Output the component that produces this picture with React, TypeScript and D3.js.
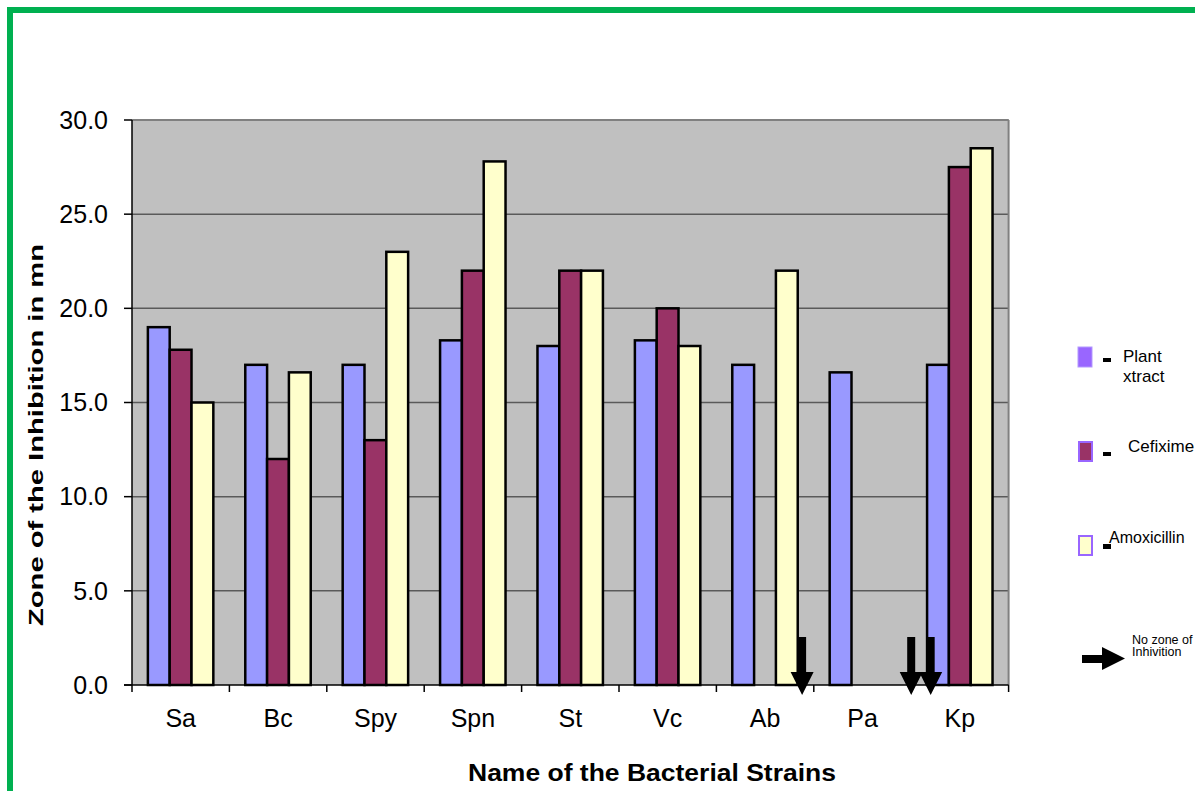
import React from "react";
import * as d3 from "d3";

const categories = ["Sa", "Bc", "Spy", "Spn", "St", "Vc", "Ab", "Pa", "Kp"];
const plantExtract = [19.0, 17.0, 17.0, 18.3, 18.0, 18.3, 17.0, 16.6, 17.0];
const cefixime = [17.8, 12.0, 13.0, 22.0, 22.0, 20.0, 0, 0, 27.5];
const amoxicillin = [15.0, 16.6, 23.0, 27.8, 22.0, 18.0, 22.0, 0, 28.5];
const yTicks = [0, 5, 10, 15, 20, 25, 30];
const seriesNames = ["Plant extract", "Cefixime", "Amoxicillin"];
// "No zone of inhibition" arrows: category and position within band (fraction)
const arrowCats = ["Ab", "Pa", "Pa"];
const arrowFrac = [0.88, 1.0, 1.2];

const W = 1195;
const H = 791;
const left = 132;
const right = 1008.6;
const top = 120;
const bottom = 685;

const colors = ["#9999FF", "#993366", "#FFFFCC"];

export default function App() {
  const x = d3.scaleBand<string>().domain(categories).range([left, right]).padding(0);
  const y = d3.scaleLinear().domain([0, 30]).range([bottom, top]);
  const bw = x.bandwidth();
  const groupOff = bw * 0.163;
  const barW = bw * 0.224;
  const series = [plantExtract, cefixime, amoxicillin];
  const y0 = y(0);

  const arrow = (cx: number, key: string) => {
    const tipY = y0 + 10;
    const p = [
      [cx - 4, y0 - 48],
      [cx + 4, y0 - 48],
      [cx + 4, y0 - 13],
      [cx + 11.5, y0 - 13],
      [cx, tipY],
      [cx - 11.5, y0 - 13],
      [cx - 4, y0 - 13],
    ];
    return <polygon key={key} points={p.map((d) => d.join(",")).join(" ")} fill="#000" />;
  };

  const boundaries = d3.range(categories.length + 1).map((i) => left + i * bw);

  return (
    <div style={{ position: "absolute", left: 0, top: 0 }}>
      <svg width={W} height={H} style={{ display: "block", fontFamily: "Liberation Sans, Arial, sans-serif" }}>
        <rect x={0} y={0} width={W} height={H} fill="#fff" />
        <rect x={10} y={10} width={1210} height={820} fill="none" stroke="#00B050" strokeWidth={6} />

        {/* plot area */}
        <rect x={left} y={top} width={right - left} height={bottom - top} fill="#C0C0C0" />
        {yTicks.filter((t) => t > 0).map((t) => (
          <line key={"g" + t} x1={left} x2={right} y1={y(t)} y2={y(t)} stroke="#5a5a5a" strokeWidth={1.5} />
        ))}
        <line x1={left} x2={right} y1={top} y2={top} stroke="#808080" strokeWidth={2} />
        <line x1={right} x2={right} y1={top} y2={bottom} stroke="#808080" strokeWidth={2} />

        {/* bars */}
        {categories.map((c, i) => (
          <g key={c}>
            {series.map((s, k) =>
              s[i] > 0 ? (
                <rect
                  key={k}
                  x={(x(c) as number) + groupOff + k * barW}
                  y={y(s[i])}
                  width={barW}
                  height={y0 - y(s[i])}
                  fill={colors[k]}
                  stroke="#000"
                  strokeWidth={2.5}
                />
              ) : null
            )}
          </g>
        ))}

        {/* axes */}
        <line x1={left} x2={left} y1={top} y2={bottom} stroke="#000" strokeWidth={1.5} />
        <line x1={left - 8} x2={right} y1={y0} y2={y0} stroke="#000" strokeWidth={1.5} />
        {yTicks.map((t) => (
          <g key={"t" + t}>
            <line x1={left - 8} x2={left} y1={y(t)} y2={y(t)} stroke="#000" strokeWidth={1.5} />
            <text x={108} y={y(t)} dy="0.35em" textAnchor="end" fontSize={25} fill="#000">
              {t.toFixed(1)}
            </text>
          </g>
        ))}
        {boundaries.map((b, i) => (
          <line key={"b" + i} x1={b} x2={b} y1={y0} y2={y0 + 7} stroke="#000" strokeWidth={1.5} />
        ))}
        {categories.map((c) => (
          <text key={"l" + c} x={(x(c) as number) + bw / 2} y={727} textAnchor="middle" fontSize={25} fill="#000">
            {c}
          </text>
        ))}

        {/* no-zone arrows */}
        {arrowCats.map((c, i) => arrow((x(c) as number) + arrowFrac[i] * bw, "a" + i))}

        {/* titles */}
        <text x={468} y={781} fontSize={23} fontWeight="bold" fill="#000" textLength={368} lengthAdjust="spacingAndGlyphs">
          Name of the Bacterial Strains
        </text>
        <text
          transform="translate(43,435) rotate(-90)"
          textAnchor="middle"
          fontSize={21}
          fontWeight="bold"
          fill="#000"
          textLength={382}
          lengthAdjust="spacingAndGlyphs"
        >
          Zone of the Inhibition in mn
        </text>

        {/* legend */}
        <rect x={1078} y={347} width={14} height={20} fill="#9966FF" stroke="#B399FF" strokeWidth={1} />
        <rect x={1103} y={358} width={8} height={4} fill="#000" />
        <text x={1123} y={362} fontSize={17} fill="#000">Plant</text>
        <text x={1123} y={382} fontSize={17} fill="#000">xtract</text>

        <rect x={1079} y={442} width={13} height={19} fill="#993366" stroke="#9966FF" strokeWidth={2} />
        <rect x={1103} y={452} width={8} height={4} fill="#000" />
        <text x={1128} y={452} fontSize={17} fill="#000">Cefixime</text>

        <rect x={1079} y={536} width={13} height={19} fill="#FFFFCC" stroke="#9966FF" strokeWidth={2} />
        <rect x={1103} y={544} width={8} height={5} fill="#000" />
        <text x={1109} y={543} fontSize={16} fill="#000">{seriesNames[2]}</text>

        <polygon
          points="1082,655 1102,655 1102,647 1125,658.5 1102,670 1102,663 1082,663"
          fill="#000"
        />
        <text x={1132} y={644} fontSize={12.5} fill="#000">No zone of</text>
        <text x={1132} y={656} fontSize={12.5} fill="#000">Inhivition</text>
      </svg>
    </div>
  );
}
